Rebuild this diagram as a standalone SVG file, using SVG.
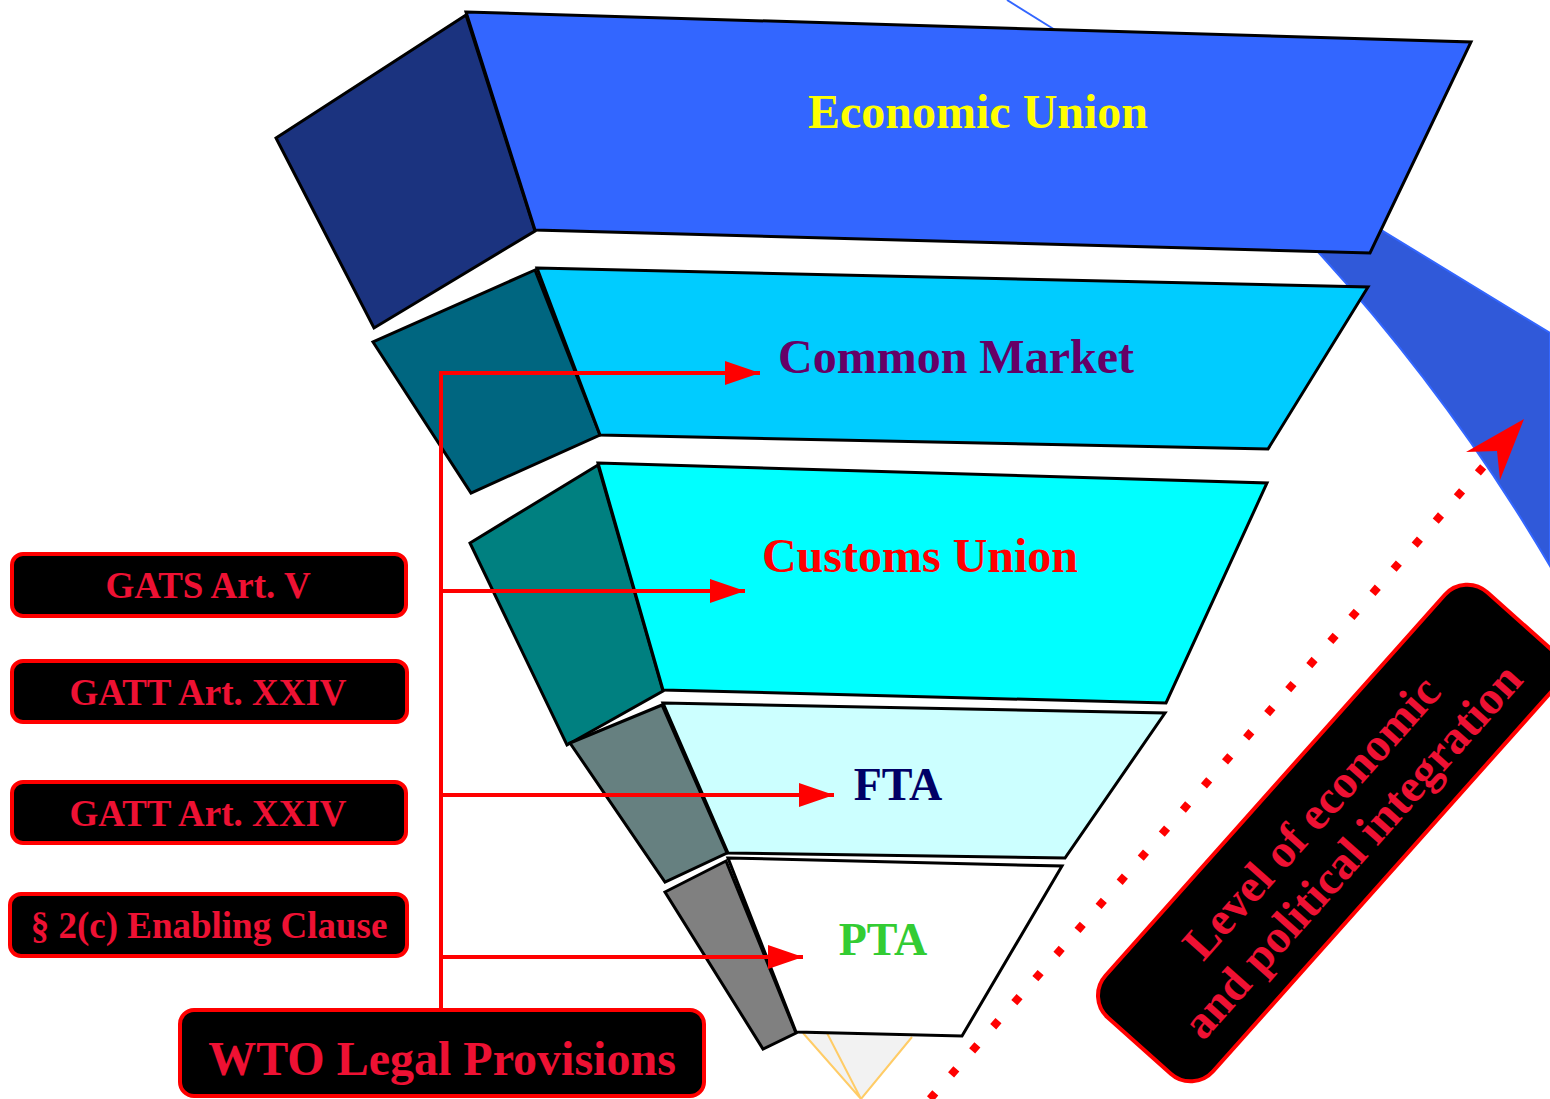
<svg xmlns="http://www.w3.org/2000/svg" width="1550" height="1099" viewBox="0 0 1550 1099">
<style>
.face{stroke:#000;stroke-width:3;stroke-linejoin:miter}
.lbl{font-family:"Liberation Serif","Times New Roman",serif;font-weight:bold;text-anchor:middle}
.box{fill:#000;stroke:#ff0000;stroke-width:4}
.boxt{font-family:"Liberation Serif","Times New Roman",serif;font-weight:bold;fill:#ee1133;text-anchor:middle}
.conn{fill:none;stroke:#ff0000;stroke-width:4}
</style>
<defs>
<marker id="ah" markerUnits="userSpaceOnUse" markerWidth="36" markerHeight="26" refX="35" refY="12" orient="auto">
<path d="M0,0 L35,12 L0,24 Z" fill="#ff0000"/>
</marker>
</defs>
<rect width="1550" height="1099" fill="#fff"/>
<g id="band">
<path d="M1060,34 L1550,333 L1550,566 Q1452,399 1319,253 L1200,130 Z" fill="#3059d9" stroke="#3366ff" stroke-width="2"/>
<line x1="1007" y1="0" x2="1060" y2="33" stroke="#3366ff" stroke-width="2"/>
</g>
<g id="tip">
<path d="M803,1033 L912,1037 L861,1099 Z" fill="#f2f2f2"/>
<path d="M803,1033 L861,1099 M827,1033 L861,1099 M912,1037 L861,1099" stroke="#ffcc66" stroke-width="2" fill="none"/>
</g>
<g id="economic-union">
<path class="face" d="M466,15 L276,138 L374,328 L535,231 Z" fill="#1b337f"/>
<path class="face" d="M466,12 L1471,42 L1370,253 L535,230 Z" fill="#3366ff"/>
<text class="lbl" x="978" y="128" font-size="48" fill="#ffff00">Economic Union</text>
</g>
<g id="common-market">
<path class="face" d="M535,270 L373,342 L471,493 L600,435 Z" fill="#006680"/>
<path class="face" d="M537,268 L1368,287 L1268,449 L600,435 Z" fill="#00ccff"/>
<text class="lbl" x="956" y="373" font-size="48" fill="#660066">Common Market</text>
</g>
<g id="customs-union">
<path class="face" d="M598,465 L470,543 L567,745 L663,691 Z" fill="#008080"/>
<path class="face" d="M598,463 L1267,483 L1166,703 L663,690 Z" fill="#00ffff"/>
<text class="lbl" x="920" y="572" font-size="48" fill="#ff0000">Customs Union</text>
</g>
<g id="fta">
<path class="face" d="M662,705 L570,743 L665,882 L727,853 Z" fill="#668080"/>
<path class="face" d="M663,703 L1165,713 L1065,858 L728,853 Z" fill="#ccffff"/>
<text class="lbl" x="898" y="800" font-size="46" fill="#000066">FTA</text>
</g>
<g id="pta">
<path class="face" d="M726,861 L665,892 L763,1049 L796,1033 Z" fill="#808080"/>
<path class="face" d="M728,858 L1062,866 L962,1036 L796,1032 Z" fill="#ffffff"/>
<text class="lbl" x="883" y="955" font-size="46" fill="#33cc33">PTA</text>
</g>
<g id="connectors">
<path class="conn" d="M441,1010 L441,373 L760,373" marker-end="url(#ah)"/>
<path class="conn" d="M441,591 L745,591" marker-end="url(#ah)"/>
<path class="conn" d="M441,795 L834,795" marker-end="url(#ah)"/>
<path class="conn" d="M441,957 L803,957" marker-end="url(#ah)"/>
<line x1="930" y1="1099" x2="1497" y2="451" stroke="#ff0000" stroke-width="8" stroke-dasharray="8 24"/>
<path d="M1524,419 L1500,480 L1497,451 L1466,452 Z" fill="#ff0000"/>
</g>
<g id="gats">
<rect class="box" x="12" y="554" width="394" height="62" rx="11"/>
<text class="boxt" x="208" y="598" font-size="37">GATS Art. V</text>
</g>
<g id="gatt1">
<rect class="box" x="12" y="661" width="395" height="61" rx="11"/>
<text class="boxt" x="208" y="705" font-size="37">GATT Art. XXIV</text>
</g>
<g id="gatt2">
<rect class="box" x="12" y="782" width="394" height="61" rx="11"/>
<text class="boxt" x="208" y="826" font-size="37">GATT Art. XXIV</text>
</g>
<g id="enabling">
<rect class="box" x="10" y="894" width="397" height="62" rx="11"/>
<text class="boxt" x="209" y="938" font-size="37">§ 2(c) Enabling Clause</text>
</g>
<g id="wto">
<rect class="box" x="180" y="1010" width="524" height="86" rx="14"/>
<text class="boxt" x="442" y="1075" font-size="48">WTO Legal Provisions</text>
</g>
<g id="integration" transform="translate(1329,833) rotate(-48.3)">
<rect class="box" x="-285" y="-72" width="570" height="144" rx="30"/>
<text class="boxt" x="0" y="-8" font-size="47">Level of economic</text>
<text class="boxt" x="2" y="45" font-size="47">and political integration</text>
</g>
</svg>
